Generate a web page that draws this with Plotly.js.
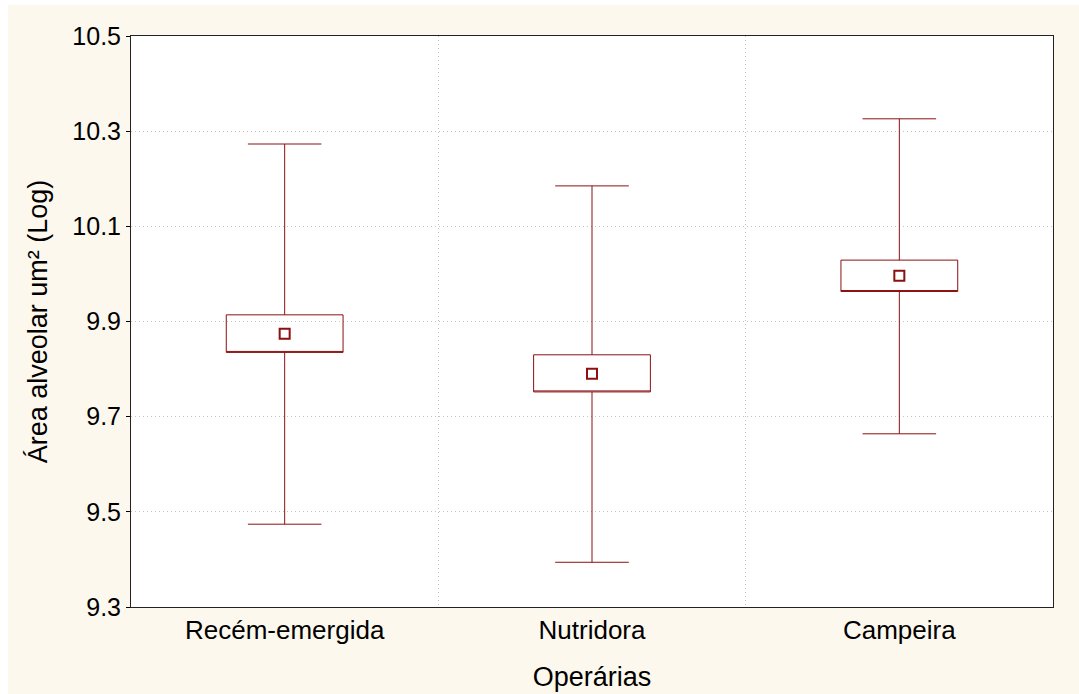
<!DOCTYPE html>
<html>
<head>
<meta charset="utf-8">
<script src="https://cdn.plot.ly/plotly-3.0.1.min.js"></script>
<style>
html,body{margin:0;padding:0;background:#ffffff;}
#chart{position:absolute;left:8px;top:5px;width:1071px;height:689px;}
</style>
</head>
<body>
<div id="chart"></div>
<script>
const categories = ["Recém-emergida", "Nutridora", "Campeira"];
const means      = [9.874, 9.790, 9.996];
const boxLow     = [9.835, 9.752, 9.963];
const boxHigh    = [9.914, 9.830, 10.029];
const whiskLow   = [9.474, 9.394, 9.664];
const whiskHigh  = [10.273, 10.185, 10.326];
const yTickVals  = [9.3, 9.5, 9.7, 9.9, 10.1, 10.3, 10.5];
const yTickText  = ["9.3", "9.5", "9.7", "9.9", "10.1", "10.3", "10.5"];

const red = "#8b1010";

const boxTrace = {
  type: "box",
  x: categories,
  q1: boxLow,
  median: boxLow,
  q3: boxHigh,
  lowerfence: whiskLow,
  upperfence: whiskHigh,
  width: 0.38,
  whiskerwidth: 0.63,
  line: {color: red, width: 1},
  fillcolor: "rgba(255,255,255,0)",
  boxpoints: false,
  hoverinfo: "skip",
  showlegend: false
};

const meanTrace = {
  type: "scatter",
  mode: "markers",
  x: categories,
  y: means,
  marker: {symbol: "square-open", size: 10, color: red, line: {width: 2, color: red}},
  showlegend: false,
  hoverinfo: "skip"
};

const layout = {
  width: 1071,
  height: 689,
  paper_bgcolor: "#fdf8ed",
  plot_bgcolor: "#ffffff",
  margin: {l: 123, r: 26, t: 31, b: 87},
  font: {family: "Liberation Sans, Arial, sans-serif", size: 25, color: "#000000"},
  showlegend: false,
  xaxis: {
    type: "category",
    range: [-0.5, 2.5],
    tickson: "boundaries",
    ticks: "",
    showgrid: true,
    gridcolor: "#c4c4c4",
    griddash: "1px,3px",
    gridwidth: 1,
    showline: true,
    linecolor: "#222222",
    linewidth: 1,
    mirror: true,
    zeroline: false,
    tickfont: {size: 26},
    title: {text: "Operárias", font: {size: 27}, standoff: 22}
  },
  yaxis: {
    range: [9.3, 10.5],
    tickmode: "array",
    tickvals: yTickVals,
    ticktext: yTickText,
    ticks: "outside",
    ticklen: 4,
    tickcolor: "#000000",
    showgrid: true,
    gridcolor: "#c4c4c4",
    griddash: "1px,3px",
    gridwidth: 1,
    showline: true,
    linecolor: "#222222",
    linewidth: 1,
    mirror: true,
    zeroline: false,
    tickfont: {size: 25},
    title: {text: "Área alveolar um² (Log)", font: {size: 27}, standoff: 16}
  }
};

Plotly.newPlot("chart", [boxTrace, meanTrace], layout, {displayModeBar: false, staticPlot: true});
</script>
</body>
</html>
